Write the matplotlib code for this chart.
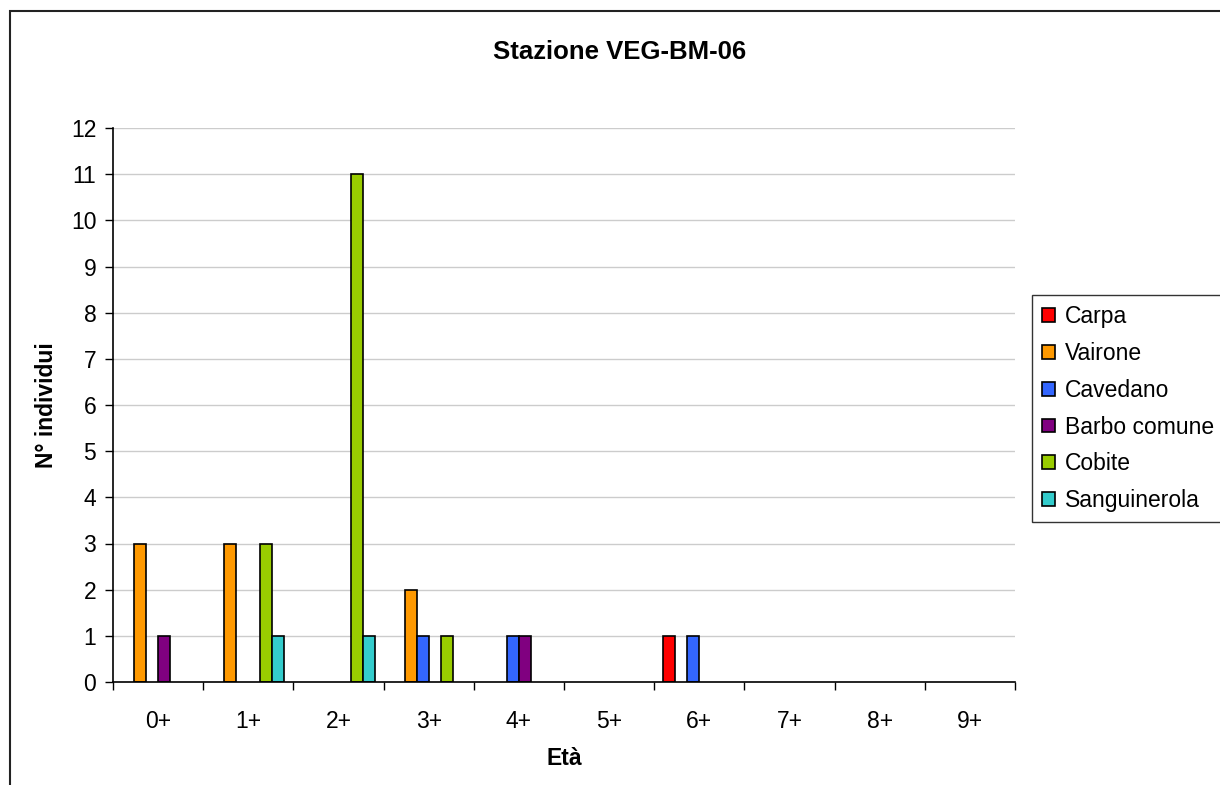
import numpy as np
import matplotlib

matplotlib.use("Agg")
import matplotlib.pyplot as plt
from matplotlib.patches import Rectangle

plt.rcParams["font.family"] = ["Liberation Sans", "DejaVu Sans"]

ages = ["0+", "1+", "2+", "3+", "4+", "5+", "6+", "7+", "8+", "9+"]
species = ["Carpa", "Vairone", "Cavedano", "Barbo comune", "Cobite", "Sanguinerola"]
colors = ["#FF0000", "#FF9900", "#3366FF", "#800080", "#99CC00", "#33CCCC"]

carpa = [0, 0, 0, 0, 0, 0, 1, 0, 0, 0]
vairone = [3, 3, 0, 2, 0, 0, 0, 0, 0, 0]
cavedano = [0, 0, 0, 1, 1, 0, 1, 0, 0, 0]
barbo = [1, 0, 0, 0, 1, 0, 0, 0, 0, 0]
cobite = [0, 3, 11, 1, 0, 0, 0, 0, 0, 0]
sanguinerola = [0, 1, 1, 0, 0, 0, 0, 0, 0, 0]
series = [carpa, vairone, cavedano, barbo, cobite, sanguinerola]

fig = plt.figure(figsize=(12.2, 7.85), dpi=100)
ax = fig.add_axes([113 / 1220, 1 - 682 / 785, 902 / 1220, 554 / 785])

# bar layout like Excel: gap width 150% of a bar
n = len(series)
w = 1 / (n + 1.5)
x = np.arange(len(ages))
for i, (name, vals, c) in enumerate(zip(species, series, colors)):
    pos = x - 0.5 + 0.75 * w + (i + 0.5) * w
    vals = np.array(vals, dtype=float)
    # empty classes get no bar outline
    vals_plot = np.where(vals > 0, vals, np.nan)
    ax.bar(pos, vals_plot, width=w, color=c, edgecolor="black", linewidth=1.2,
           label=name, zorder=3)

ax.set_xlim(-0.5, len(ages) - 0.5)
ax.set_ylim(0, 12)
ax.set_yticks(range(0, 13))
ax.yaxis.grid(True, color="#cccccc", linewidth=1, zorder=0)
ax.set_xticks(x)
ax.set_xticklabels(ages)
ax.set_xticks(np.arange(-0.5, len(ages)), minor=True)
ax.tick_params(axis="x", which="major", length=0, labelsize=16.5, pad=20)
ax.tick_params(axis="x", which="minor", length=6, width=1, direction="out")
ax.tick_params(axis="y", length=6, width=1, direction="out", labelsize=16.5, pad=6)

for s in ["top", "right"]:
    ax.spines[s].set_visible(False)
ax.spines["left"].set_linewidth(1.2)
ax.spines["bottom"].set_linewidth(1.2)
ax.spines["bottom"].set_zorder(4)

ax.set_xlabel("Età", fontsize=16.5, fontweight="bold", labelpad=10)
ax.set_ylabel("N° individui", fontsize=16.5, fontweight="bold", labelpad=9)
fig.text(620 / 1220, 1 - 52 / 785, "Stazione VEG-BM-06", ha="center",
         va="center", fontsize=18.5, fontweight="bold")

leg = ax.legend(loc="upper left", bbox_to_anchor=(1032 / 1220, 1 - 295 / 785),
                bbox_transform=fig.transFigure, fontsize=16.5, frameon=True,
                fancybox=False, edgecolor="black", handlelength=0.55,
                handleheight=0.55, handletextpad=0.45, labelspacing=0.6,
                borderpad=0.45, borderaxespad=0)
leg.get_frame().set_linewidth(1)
for h in leg.legend_handles:
    h.set_linewidth(1.2)

# outer chart border
fig.patches.append(Rectangle((10 / 1220, -0.1), 1.2, 1 - 11 / 785 + 0.1,
                             transform=fig.transFigure, fill=False,
                             edgecolor="#222222", linewidth=1.5))

fig.savefig("out.png", dpi=100)
